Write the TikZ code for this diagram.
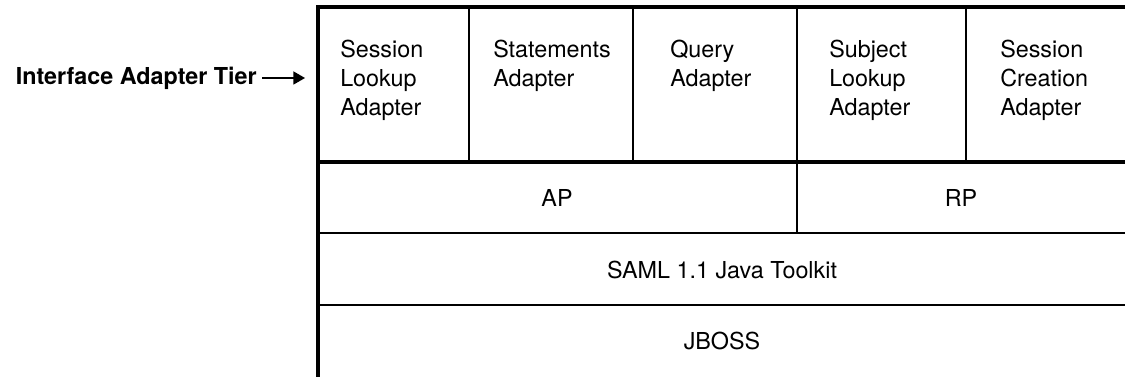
\documentclass[tikz,border=0pt]{standalone}
\usepackage{fontspec}
\setmainfont{TeX Gyre Heros}
\usetikzlibrary{arrows, calc}

\begin{document}
\begin{tikzpicture}[x=0.75pt, y=-0.75pt, font=\fontsize{17.5}{21.75}\selectfont,
	adapter/.style={align=left, anchor=north west, inner sep=0pt},
	rule/.style={line width=1.7pt},
	heavy/.style={line width=2.3pt}]
	\useasboundingbox (0,0) rectangle (1125,377);
	% corners of the stack
	\coordinate (TL) at (318,7);
	\coordinate (TR) at (1125,7);
	\coordinate (BL) at (318,377);
	\coordinate (tip) at (305,78);
	% frame and layer lines
	\draw [heavy] (TR) -- (TL) -- (BL);
	\draw [heavy] (318,162) -- (1125,162);
	\draw [rule] (318,233) -- (1125,233);
	\draw [rule] (318,305) -- (1125,305);
	\foreach \x in {469,633,966}
		\draw [rule] (\x,7) -- (\x,162);
	\draw [rule] (797,7) -- (797,233);
	% adapter tier
	\node [adapter] (sla) at (340,40) {Session\\Lookup\\Adapter};
	\node [adapter] (sta) at (493,40) {Statements\\Adapter};
	\node [adapter] (qa) at (670,40) {Query\\Adapter};
	\node [adapter] (sula) at (829,40) {Subject\\Lookup\\Adapter};
	\node [adapter] (sca) at (1000,40) {Session\\Creation\\Adapter};
	% lower layers
	\node (ap) at (557,198) {AP};
	\node (rp) at (961,198) {RP};
	\node (saml) at (722,270) {SAML 1.1 Java Toolkit};
	\node (jboss) at (722,341) {JBOSS};
	% tier label
	\node [anchor=east, inner xsep=3.75pt, font=\fontsize{17.5}{20}\selectfont\bfseries] (tier) at (262,78) {Interface Adapter Tier};
	\draw [-triangle 60, line width=1.4pt] (tier.east) -- (tip);
\end{tikzpicture}
\end{document}
